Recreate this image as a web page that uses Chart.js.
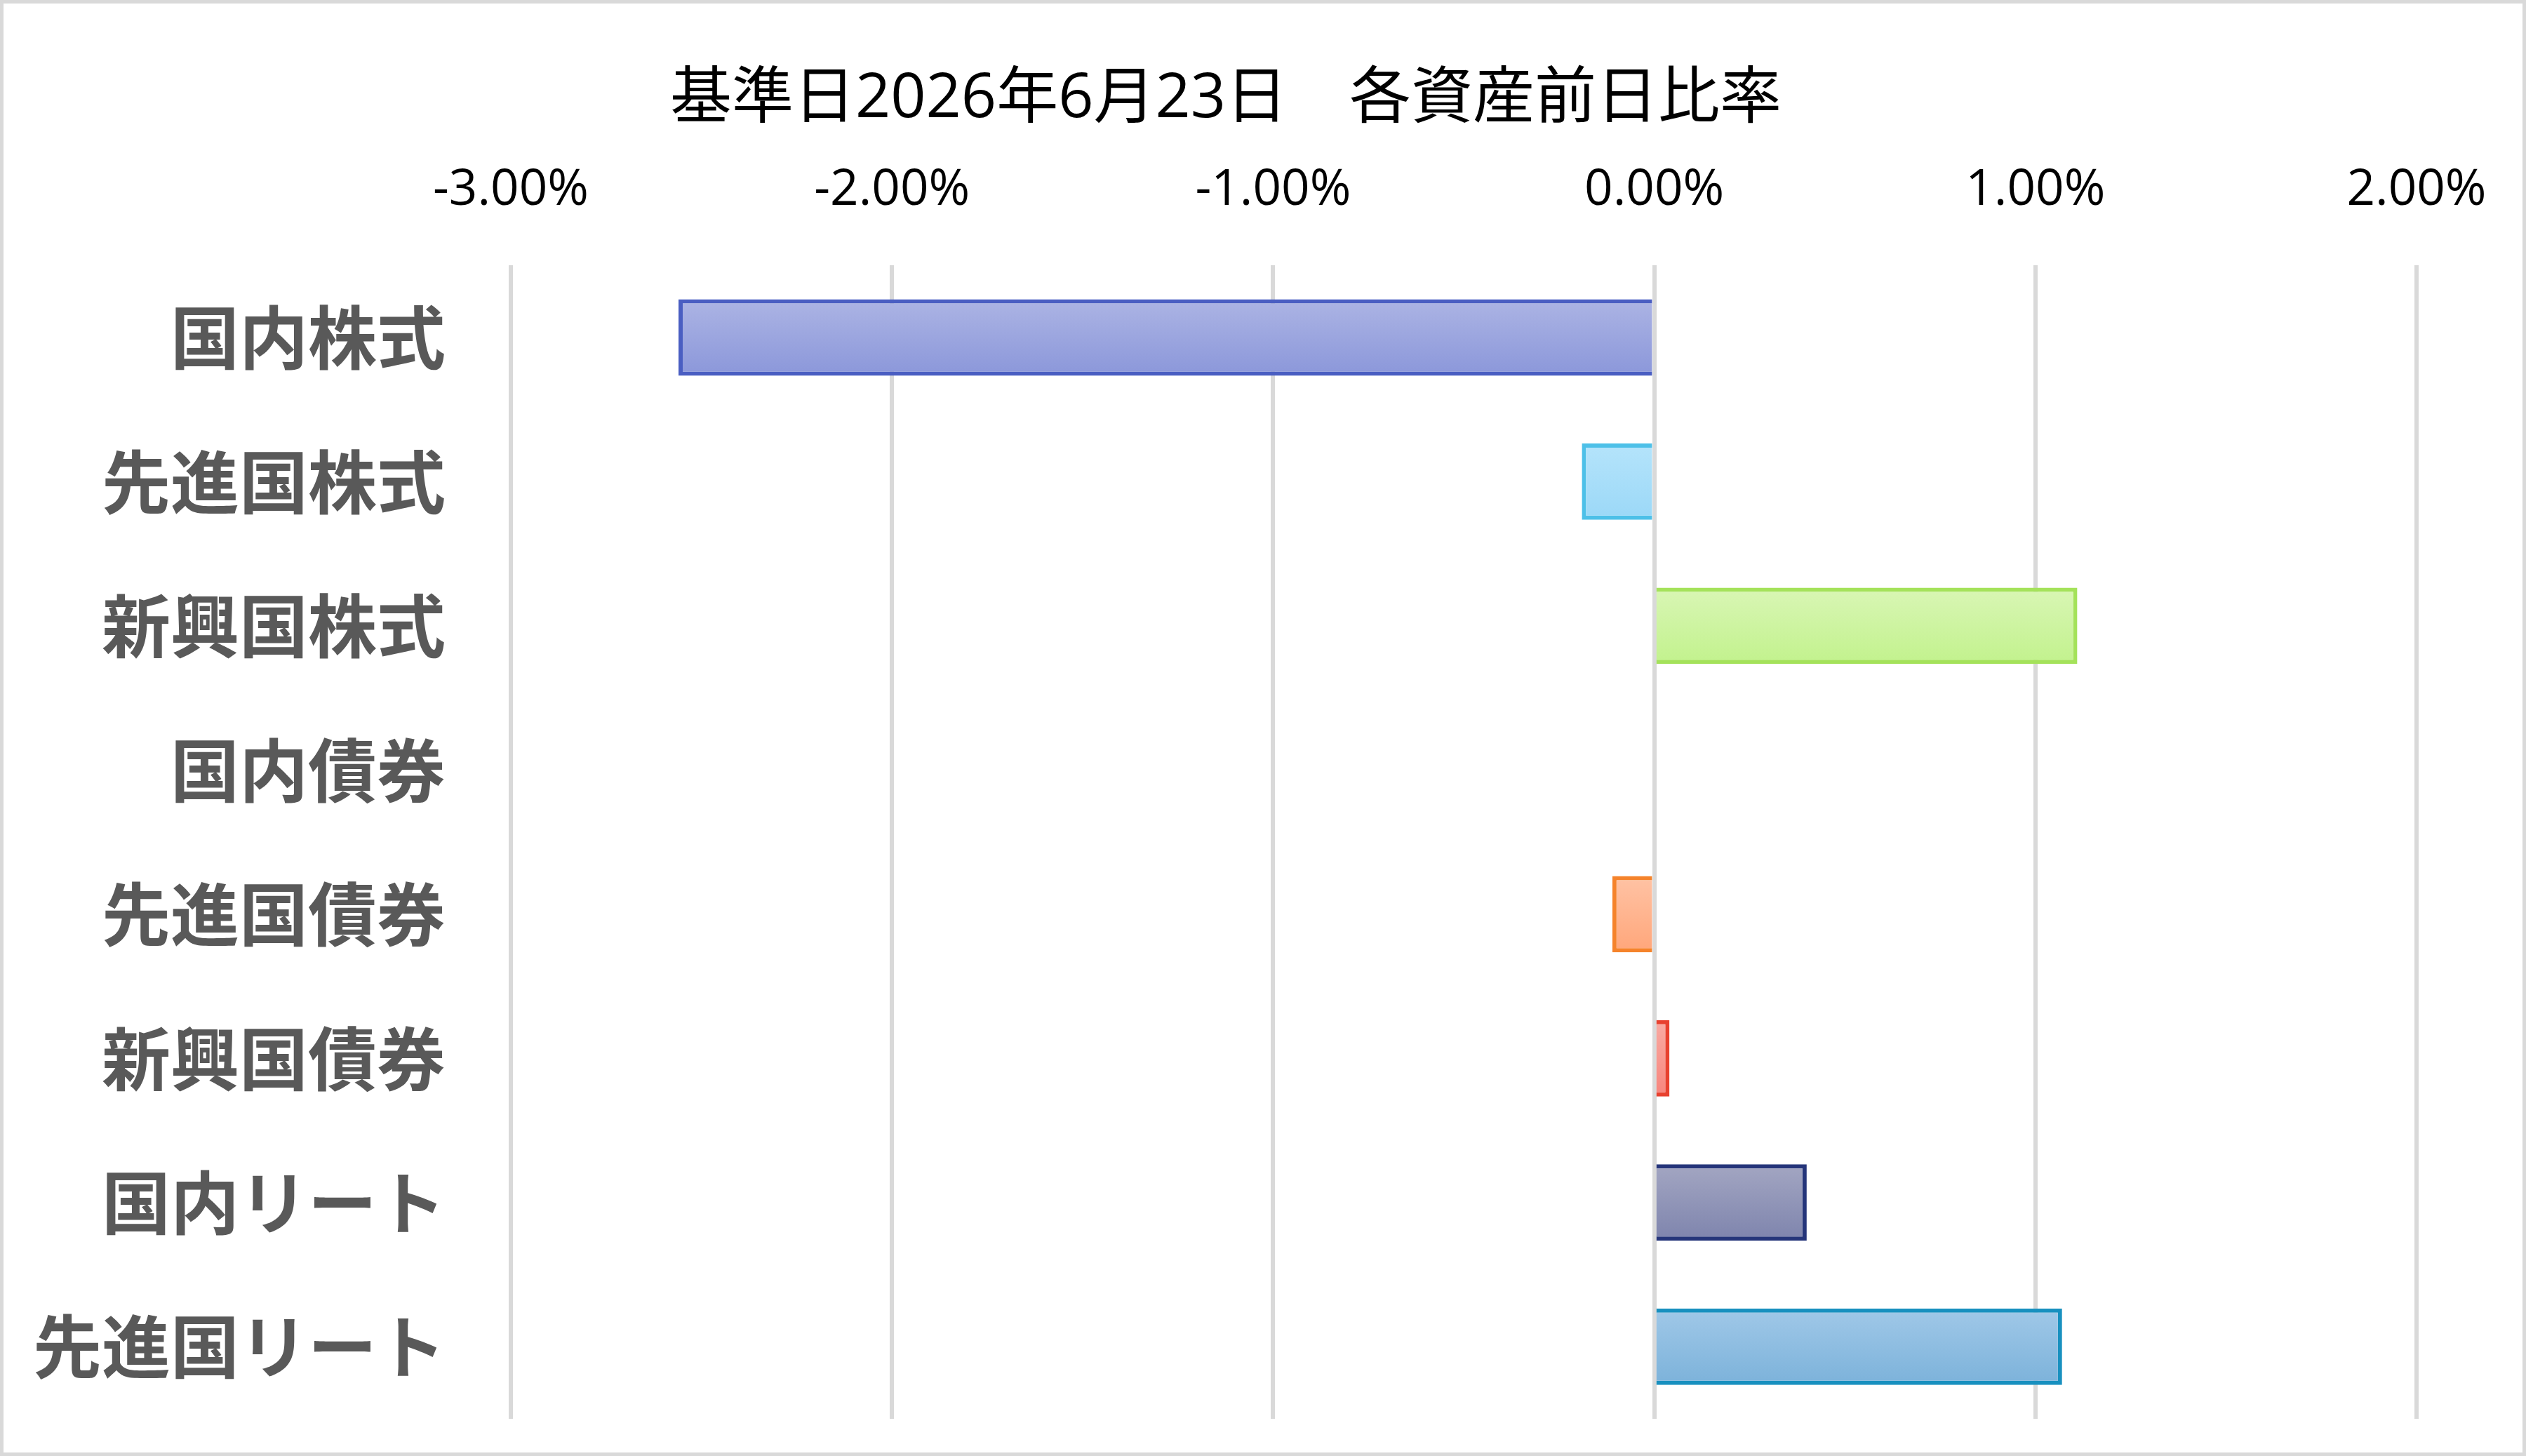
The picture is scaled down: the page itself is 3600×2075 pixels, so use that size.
<!DOCTYPE html>
<html lang="ja">
<head>
<meta charset="utf-8">
<script src="https://cdn.jsdelivr.net/npm/chart.js@4/dist/chart.umd.min.js"></script>
<style>
    html, body { margin: 0; padding: 0; background: #fff; }
    #wrap {
        position: absolute; left: 0; top: 0;
        width: 3600px; height: 2075px;
        box-sizing: border-box;
        border: 5px solid #d9d9d9;
        background: #fff;
    }
    #chart { display: block; }
</style>
</head>
<body>
<div id="wrap"><canvas id="chart" width="3590" height="2065"></canvas></div>
<script>
const titleText = '基準日2026年6月23日　各資産前日比率';
const categories = ['国内株式', '先進国株式', '新興国株式', '国内債券', '先進国債券', '新興国債券', '国内リート', '先進国リート'];
// 前日比 (%)
const changePct = [-2.56, -0.19, 1.11, 0.00, -0.11, 0.04, 0.40, 1.07];
const xTickValues = [-3, -2, -1, 0, 1, 2];

// bar colours: gradient top / bottom and outline
const fillTop = ['#acb4e4', '#b5e4fb', '#d9f6b5', '#c9c9c9', '#ffc3a5', '#f9aba3', '#a3a6c2', '#a0c8e8'];
const fillBottom = ['#8b97da', '#9bd8f7', '#c2f28d', '#b0b0b0', '#ffa67a', '#f8857d', '#7e84ad', '#7cb2da'];
const outline = ['#4a5ec2', '#4dc0e8', '#a4e25a', '#999999', '#f5832b', '#e8412f', '#25357a', '#1890bf'];

const barFraction = 0.53;

function barGradient(ctx) {
    const chart = ctx.chart;
    const area = chart.chartArea;
    const i = ctx.dataIndex;
    if (!area || ctx.type !== 'data') return fillBottom[i];
    const yMid = chart.scales.y.getPixelForValue(i);
    const half = (area.bottom - area.top) / categories.length * barFraction / 2;
    const g = chart.ctx.createLinearGradient(0, yMid - half, 0, yMid + half);
    g.addColorStop(0, fillTop[i]);
    g.addColorStop(1, fillBottom[i]);
    return g;
}

// title drawn manually: the original sits left of the canvas centre
const titlePlugin = {
    id: 'manualTitle',
    afterDraw(chart) {
        const c = chart.ctx;
        c.save();
        c.font = "400 88px 'Open Sans', 'Noto Sans CJK JP', sans-serif";
        c.fillStyle = '#000';
        c.textAlign = 'center';
        c.textBaseline = 'middle';
        c.fillText(titleText, 1742, 137);
        c.restore();
    }
};

new Chart(document.getElementById('chart'), {
    type: 'bar',
    data: {
        labels: categories,
        datasets: [{
            data: changePct,
            backgroundColor: barGradient,
            borderColor: outline,
            borderWidth: 6,
            borderSkipped: 'start',
            barPercentage: barFraction,
            categoryPercentage: 1
        }]
    },
    options: {
        indexAxis: 'y',
        responsive: false,
        animation: false,
        devicePixelRatio: 1,
        layout: { padding: { left: 0, right: 151, top: 160, bottom: 48 } },
        plugins: {
            legend: { display: false },
            title: { display: false },
            tooltip: { enabled: false }
        },
        scales: {
            x: {
                position: 'top',
                min: -3,
                max: 2,
                afterBuildTicks: scale => { scale.ticks = xTickValues.map(v => ({ value: v })); },
                // labels overhang into layout padding, don't let them shrink the plot
                afterFit: scale => { scale.paddingLeft = 0; scale.paddingRight = 0; },
                ticks: {
                    color: '#000',
                    font: { family: "'Open Sans', sans-serif", size: 71 },
                    padding: 64,
                    maxRotation: 0,
                    callback: v => v.toFixed(2) + '%'
                },
                grid: { color: '#d9d9d9', lineWidth: 6, drawTicks: false },
                border: { display: false }
            },
            y: {
                afterFit: scale => {
                    scale.width = 723;
                    scale.paddingTop = 0;
                    scale.paddingBottom = 0;
                },
                ticks: {
                    color: '#595959',
                    font: { family: "'Noto Sans CJK JP', sans-serif", size: 98, weight: 'bold' },
                    padding: 85
                },
                grid: { display: false },
                border: { display: false }
            }
        }
    },
    plugins: [titlePlugin]
});
</script>
</body>
</html>
